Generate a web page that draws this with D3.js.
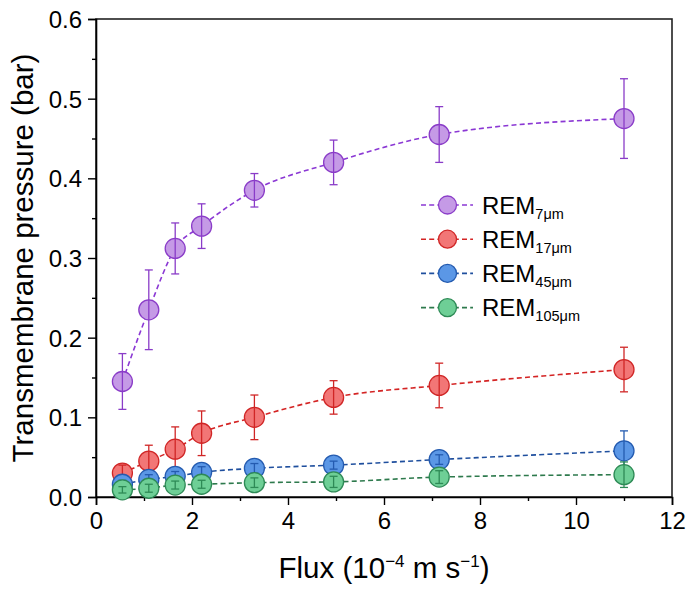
<!DOCTYPE html>
<html>
<head>
<meta charset="utf-8">
<script src="https://cdn.jsdelivr.net/npm/d3@7"></script>
<style>
  html, body { margin: 0; padding: 0; background: #fff; }
  svg { display: block; font-family: "Liberation Sans", Arial, sans-serif; }
</style>
</head>
<body>
<svg id="chart" width="691" height="592"></svg>
<script>
// Flux (10^-4 m s^-1) at which transmembrane pressure was measured
const flux = [0.55, 1.1, 1.65, 2.2, 3.3, 4.95, 7.15, 11.0];

// Mean transmembrane pressure (bar) and error (bar) per membrane pore size
const rem7 = [0.145, 0.235, 0.312, 0.340, 0.385, 0.420, 0.455, 0.475];
const rem7Err = [0.035, 0.050, 0.032, 0.028, 0.021, 0.028, 0.035, 0.050];
const rem17 = [0.030, 0.045, 0.060, 0.080, 0.100, 0.125, 0.140, 0.160];
const rem17Err = [0.010, 0.020, 0.028, 0.028, 0.028, 0.021, 0.028, 0.028];
const rem45 = [0.016, 0.022, 0.026, 0.031, 0.036, 0.040, 0.047, 0.058];
const rem45Err = [0.005, 0.006, 0.006, 0.007, 0.006, 0.005, 0.006, 0.025];
const rem105 = [0.009, 0.011, 0.015, 0.016, 0.018, 0.019, 0.025, 0.028];
const rem105Err = [0.004, 0.005, 0.005, 0.005, 0.006, 0.007, 0.008, 0.016];

const seriesNames = ["7μm", "17μm", "45μm", "105μm"];
const xTicks = [0, 2, 4, 6, 8, 10, 12];
const yTicks = [0.0, 0.1, 0.2, 0.3, 0.4, 0.5, 0.6];

const series = [
  { sub: seriesNames[0], y: rem7, err: rem7Err, fill: "#c59ae6", stroke: "#8a3cc8", line: "#8b38d4" },
  { sub: seriesNames[1], y: rem17, err: rem17Err, fill: "#f27676", stroke: "#d02626", line: "#d42424" },
  { sub: seriesNames[2], y: rem45, err: rem45Err, fill: "#5b97e6", stroke: "#245bb0", line: "#1f4f9e" },
  { sub: seriesNames[3], y: rem105, err: rem105Err, fill: "#6ecf96", stroke: "#2e8a56", line: "#2e7a4d" }
];

const svg = d3.select("#chart");
const L = 96, R = 672, T = 19, B = 497;

const x = d3.scaleLinear().domain([0, 12]).range([L, R]);
const y = d3.scaleLinear().domain([0, 0.6]).range([B, T]);

const axisColor = "#000";

// Frame
svg.append("rect")
  .attr("x", L).attr("y", T).attr("width", R - L).attr("height", B - T)
  .attr("fill", "none").attr("stroke", "#222").attr("stroke-width", 1.6);

// Bottom axis: major ticks every 2, minor every 1
const xAxis = svg.append("g").attr("transform", `translate(0,${B})`)
  .call(d3.axisBottom(x).tickValues(xTicks).tickSize(8).tickPadding(6).tickFormat(d3.format("d")));
svg.append("g").attr("transform", `translate(0,${B})`)
  .call(d3.axisBottom(x).tickValues(d3.range(1, 12, 2)).tickSize(4).tickFormat(""))
  .call(g => g.select(".domain").remove());

// Left axis: major ticks every 0.1, minor every 0.05
const yAxis = svg.append("g").attr("transform", `translate(${L},0)`)
  .call(d3.axisLeft(y).tickValues(yTicks).tickSize(8).tickPadding(6).tickFormat(d3.format(".1f")));
svg.append("g").attr("transform", `translate(${L},0)`)
  .call(d3.axisLeft(y).tickValues(d3.range(0.05, 0.6, 0.1)).tickSize(4).tickFormat(""))
  .call(g => g.select(".domain").remove());

svg.selectAll(".domain").attr("stroke", axisColor).attr("stroke-width", 1.6);
svg.selectAll(".tick line").attr("stroke", axisColor).attr("stroke-width", 1.4);
svg.selectAll(".tick text")
  .attr("fill", "#000")
  .style("font-size", "24px")
  .style("font-family", '"Liberation Sans", Arial, sans-serif');
xAxis.selectAll(".tick text").attr("dy", "0.76em");
yAxis.selectAll(".tick text").attr("dy", "0.36em");

// Axis titles
const xt = svg.append("text")
  .attr("x", (L + R) / 2).attr("y", 578)
  .attr("text-anchor", "middle")
  .style("font-size", "29.5px").attr("fill", "#000");
xt.append("tspan").text("Flux (10");
xt.append("tspan").text("\u22124").attr("font-size", "17px").attr("dy", -11);
xt.append("tspan").text(" m s").attr("dy", 11);
xt.append("tspan").text("\u22121").attr("font-size", "17px").attr("dy", -11);
xt.append("tspan").text(")").attr("dy", 11);

svg.append("text")
  .attr("transform", `translate(33,${(T + B) / 2}) rotate(-90)`)
  .attr("text-anchor", "middle")
  .style("font-size", "29.5px").attr("fill", "#000")
  .text("Transmembrane pressure (bar)");

// Dashed trend lines through each series
const plot = svg.append("g");
const lineGen = d3.line().x(d => x(d[0])).y(d => y(d[1])).curve(d3.curveMonotoneX);
series.forEach(s => {
  const pts = flux.map((f, i) => [f, s.y[i]]);
  plot.append("path")
    .attr("d", lineGen(pts))
    .attr("fill", "none")
    .attr("stroke", s.line)
    .attr("stroke-width", 1.6)
    .attr("stroke-dasharray", "5,3.2");
});

// Markers with error bars drawn over them
const cap = 4;
series.forEach(s => {
  const g = plot.append("g");
  flux.forEach((f, i) => {
    g.append("circle")
      .attr("cx", x(f)).attr("cy", y(s.y[i])).attr("r", 10)
      .attr("fill", s.fill).attr("stroke", s.stroke).attr("stroke-width", 1.3);
  });
  flux.forEach((f, i) => {
    const cx = x(f), y1 = y(s.y[i] + s.err[i]), y2 = y(s.y[i] - s.err[i]);
    g.append("line").attr("x1", cx).attr("x2", cx).attr("y1", y1).attr("y2", y2)
      .attr("stroke", s.stroke).attr("stroke-width", 1.3);
    [y1, y2].forEach(yy => g.append("line")
      .attr("x1", cx - cap).attr("x2", cx + cap).attr("y1", yy).attr("y2", yy)
      .attr("stroke", s.stroke).attr("stroke-width", 1.3));
  });
});

// Legend
const legend = svg.append("g");
series.forEach((s, i) => {
  const cy = 205 + i * 34.2;
  legend.append("line")
    .attr("x1", 421).attr("x2", 473).attr("y1", cy).attr("y2", cy)
    .attr("stroke", s.line).attr("stroke-width", 1.6).attr("stroke-dasharray", "5,3.2");
  legend.append("circle")
    .attr("cx", 447.5).attr("cy", cy).attr("r", 9)
    .attr("fill", s.fill).attr("stroke", s.stroke).attr("stroke-width", 1.3);
  const t = legend.append("text")
    .attr("x", 482).attr("y", cy + 8.5)
    .style("font-size", "24px").attr("fill", "#000");
  t.append("tspan").text("REM");
  t.append("tspan").text(s.sub).attr("font-size", "14.5px").attr("dy", 5);
});
</script>
</body>
</html>
